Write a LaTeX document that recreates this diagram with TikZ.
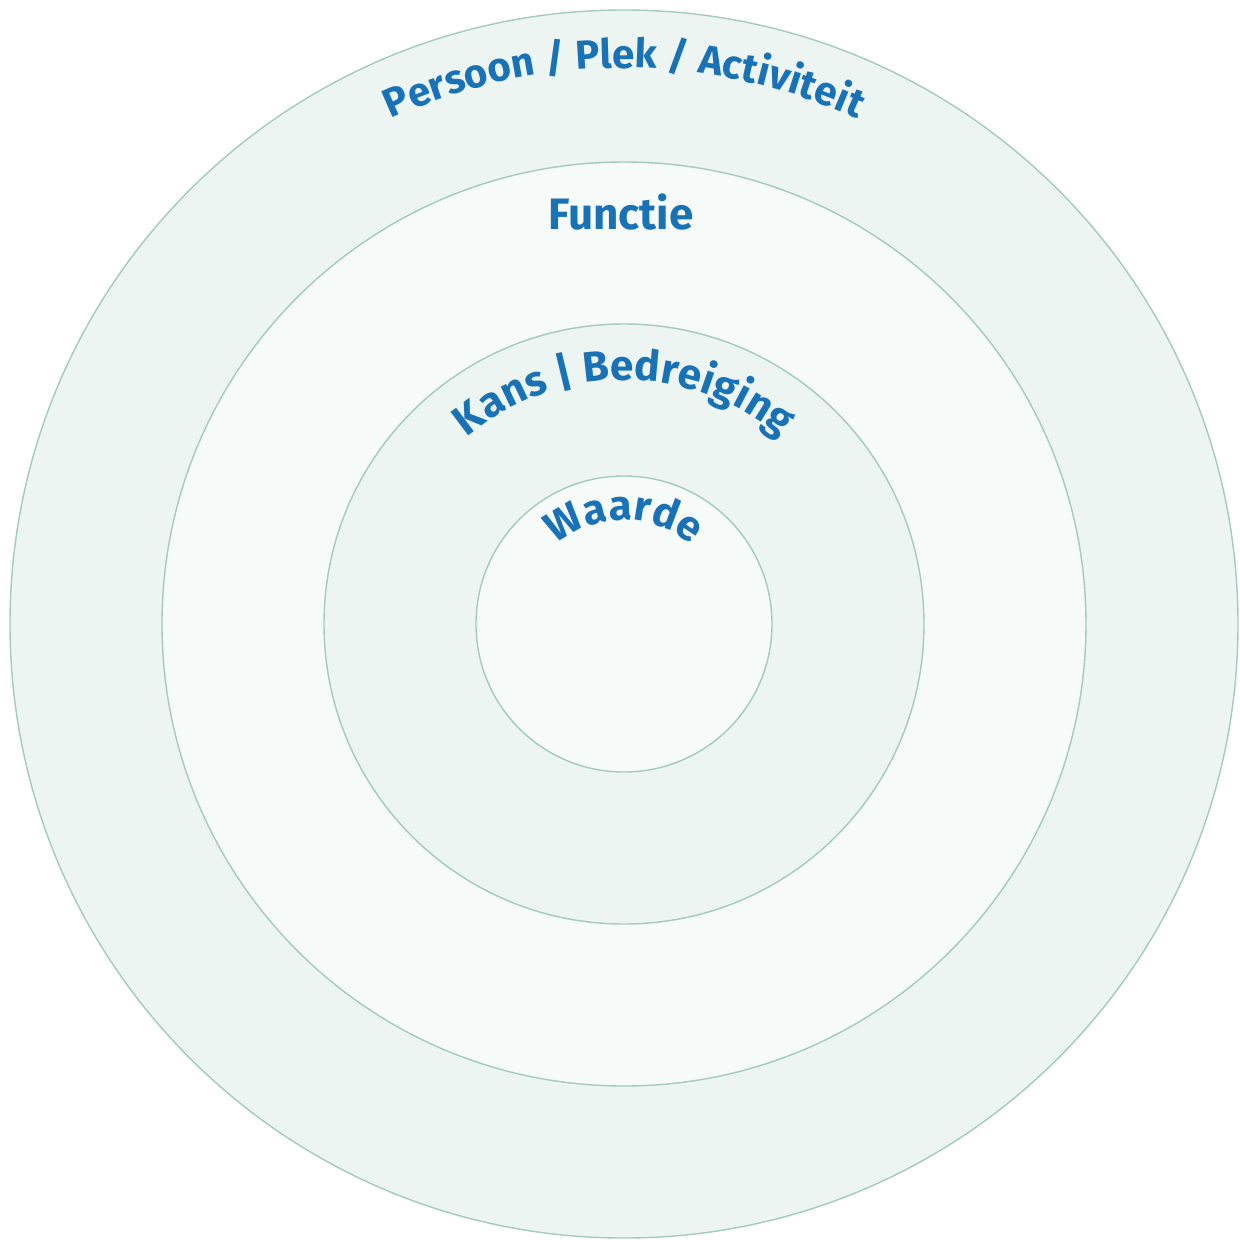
\documentclass[tikz,border=0pt]{standalone}
\usepackage{fontspec}
\setmainfont{Fira Sans}
\usetikzlibrary{decorations.text}
\definecolor{ringA}{HTML}{EDF5F2}
\definecolor{ringB}{HTML}{F6FAF9}
\definecolor{ringline}{HTML}{A3CABD}
\definecolor{labelblue}{HTML}{1A72B6}
\tikzset{
  ring/.style={draw=ringline, line width=0.7pt},
  arclabel/.style={decorate, decoration={text along path, text align=center,
      text color=labelblue}},
  flatlabel/.style={text=labelblue, font=\fontsize{22}{25}\selectfont\bfseries, anchor=base}
}
\begin{document}
\begin{tikzpicture}[x=0.5pt,y=0.5pt]
\useasboundingbox[fill=white] (-624,-615) rectangle (616,624);
\filldraw[ring, fill=ringA] (0,0) circle (614);
\filldraw[ring, fill=ringB] (0,0) circle (462);
\filldraw[ring, fill=ringA] (0,0) circle (300);
\filldraw[ring, fill=ringB] (0,0) circle (148);
\node[coordinate] (c) at (0,0) {};
\path[arclabel, decoration={text={|\fontsize{20.2}{24}\selectfont\bfseries|Persoon / Plek / Activiteit}}]
  (180:556) arc (180:0:556);
\node[flatlabel] (functie) at (-3,395) {Functie};
\path[arclabel, decoration={text={|\fontsize{21.2}{24}\selectfont\bfseries|Kans {\textbar} Bedreiging}}]
  (180:244) arc (180:0:244);
\path[arclabel, decoration={text={|\fontsize{21}{24}\selectfont\bfseries|Waarde}}]
  (180:104) arc (180:0:104);
\end{tikzpicture}
\end{document}
